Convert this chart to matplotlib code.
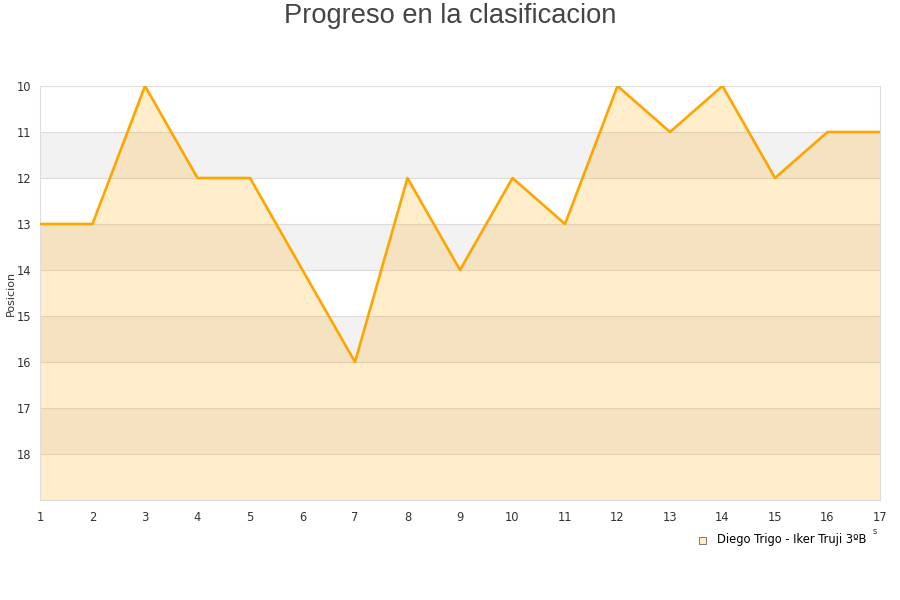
import matplotlib
matplotlib.use("Agg")
from matplotlib import pyplot as plt

jornadas = list(range(1, 18))
posiciones = [13, 13, 10, 12, 12, 14, 16, 12, 14, 12, 13, 10, 11, 10, 12, 11, 11]
equipo = "Diego Trigo - Iker Truji 3ºB"
y_ticks = list(range(10, 19))

fig = plt.figure(figsize=(9, 6), dpi=100)
ax = fig.add_axes([40 / 900, 1 - 500 / 600, 840 / 900, 414 / 600])

# alternating bands
for y0 in range(11, 19, 2):
    ax.axhspan(y0, y0 + 1, color="#f2f2f2", zorder=0, lw=0)
for y in range(11, 19):
    ax.axhline(y, color="#dddddd", lw=0.8, zorder=1)

ax.fill_between(jornadas, posiciones, 19, color="orange", alpha=0.2, lw=0, zorder=2)
ax.plot(jornadas, posiciones, color="orange", lw=1.9, zorder=3)

ax.set_xlim(1, 17)
ax.set_ylim(19, 10)
ax.set_xticks(jornadas)
ax.set_yticks(y_ticks)
ax.tick_params(length=0, labelsize=8.3, colors="#333333")
ax.tick_params(axis="y", pad=6)
ax.tick_params(axis="x", pad=8)
for s in ax.spines.values():
    s.set_color("#dddddd")

ax.set_ylabel("Posicion", fontsize=8, color="#333333")
ax.yaxis.set_label_coords(-24 / 840, 0.5)
fig.text(0.5, 1 - 16 / 600, "Progreso en la clasificacion", ha="center", va="center",
         fontsize=19.6, color="#444444", family="Liberation Sans")
fig.text(875 / 900, 1 - 532 / 600, "s", ha="center", va="center", fontsize=6, color="#333333")

fig.patches.append(plt.Rectangle((699 / 900, 1 - 544 / 600), 7 / 900, 7 / 600,
                                 transform=fig.transFigure, facecolor="#ffedcc",
                                 edgecolor="#666666", lw=0.6))
fig.text(717 / 900, 1 - 540 / 600, equipo, ha="left", va="center", fontsize=8.3, color="black")

plt.savefig("out.png")
